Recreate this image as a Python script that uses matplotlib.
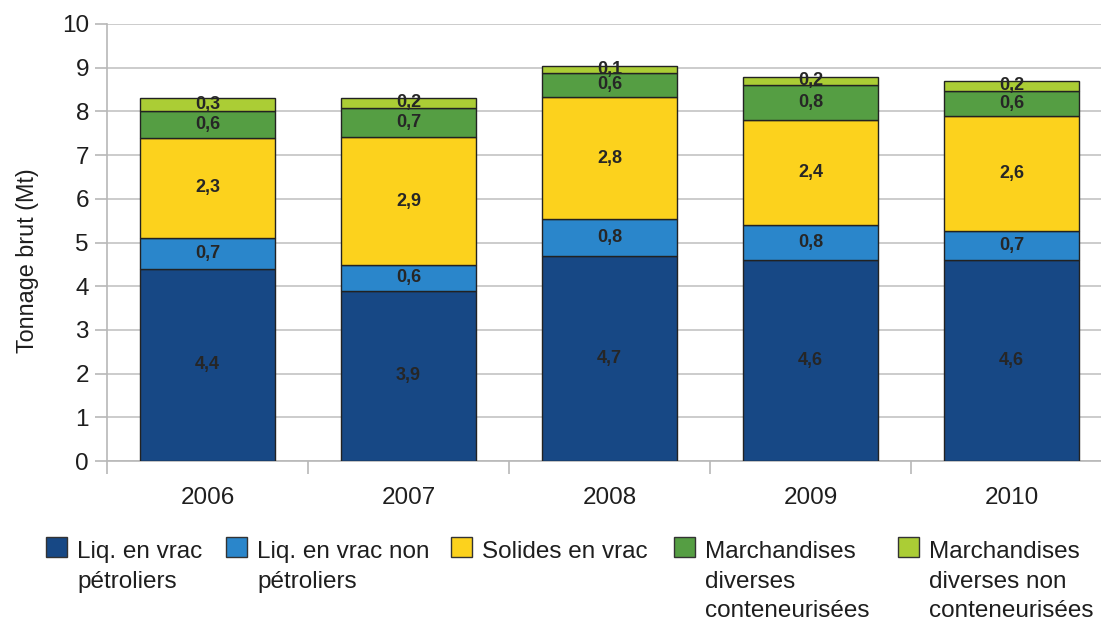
import matplotlib
matplotlib.use("Agg")
import matplotlib.pyplot as plt
from matplotlib.patches import Rectangle
import numpy as np

plt.rcParams['font.family'] = ['Liberation Sans', 'DejaVu Sans']

years = ["2006", "2007", "2008", "2009", "2010"]
series_names = ["Liq. en vrac\npétroliers", "Liq. en vrac non\npétroliers", "Solides en vrac",
                "Marchandises\ndiverses\nconteneurisées", "Marchandises\ndiverses non\nconteneurisées"]
liq_petro = [4.4, 3.9, 4.7, 4.6, 4.6]
liq_non_petro = [0.7, 0.58, 0.83, 0.8, 0.67]
solides = [2.3, 2.93, 2.79, 2.41, 2.63]
march_cont = [0.6, 0.67, 0.57, 0.8, 0.57]
march_non_cont = [0.3, 0.23, 0.14, 0.18, 0.23]
colors = ["#174885", "#2a86cb", "#fcd21d", "#559e43", "#abcd35"]

series = [liq_petro, liq_non_petro, solides, march_cont, march_non_cont]

W, H = 1101, 623
fig = plt.figure(figsize=(W/100, H/100), dpi=100)
ax = fig.add_axes([107/W, 1 - 461/H, 1005/W, (461-24)/H])

x = np.arange(len(years))
bottom = np.zeros(len(years))
for vals, col in zip(series, colors):
    vals = np.array(vals)
    ax.bar(x, vals, bottom=bottom, width=0.67, color=col, edgecolor="#222222",
           linewidth=1.0, zorder=3)
    for xi, b, v in zip(x, bottom, vals):
        ax.text(xi, b + v/2, f"{v:.1f}".replace(".", ","), ha="center", va="center",
                fontsize=13, fontweight="bold", color="#262626", zorder=4)
    bottom += vals

ax.set_ylim(0, 10)
ax.set_xlim(-0.5, 4.5)
ax.set_yticks(range(0, 11))
ax.yaxis.grid(True, color="#c4c4c4", linewidth=1.2, zorder=0)
ax.set_axisbelow(True)
ax.set_xticks(x)
ax.set_xticklabels(years)
ax.set_xticks(np.arange(-0.5, 5.0, 1.0), minor=True)
ax.tick_params(axis="x", which="major", length=0, pad=19, labelsize=17.5, labelcolor="#1e1e1e")
ax.tick_params(axis="x", which="minor", length=9, width=1.2, color="#b8b8b8")
ax.tick_params(axis="y", length=9, width=1.2, color="#b8b8b8", pad=4, labelsize=17.5, labelcolor="#1e1e1e")
for s in ["top", "right"]:
    ax.spines[s].set_visible(False)
ax.spines["left"].set_color("#b8b8b8")
ax.spines["left"].set_linewidth(1.2)
ax.spines["bottom"].set_color("#b8b8b8")
ax.spines["bottom"].set_linewidth(1.2)
ax.set_ylabel("Tonnage brut (Mt)", fontsize=16.8, color="#1e1e1e")
ax.yaxis.set_label_coords(-(107 - 39) / 1005, (461 - 261) / 437)

text_x = [77, 257, 482, 705, 929]
for name, col, tx in zip(series_names, colors, text_x):
    sx = tx - 31
    fig.patches.append(Rectangle((sx/W, 1 - 557/H), 21/W, 20/H, transform=fig.transFigure,
                                 facecolor=col, edgecolor="#333333", linewidth=1.0))
    fig.text(tx/W, 1 - 541/H, name, ha="left", va="top", fontsize=17.5,
             color="#1e1e1e", linespacing=1.45)

fig.savefig("out.png", dpi=100)
